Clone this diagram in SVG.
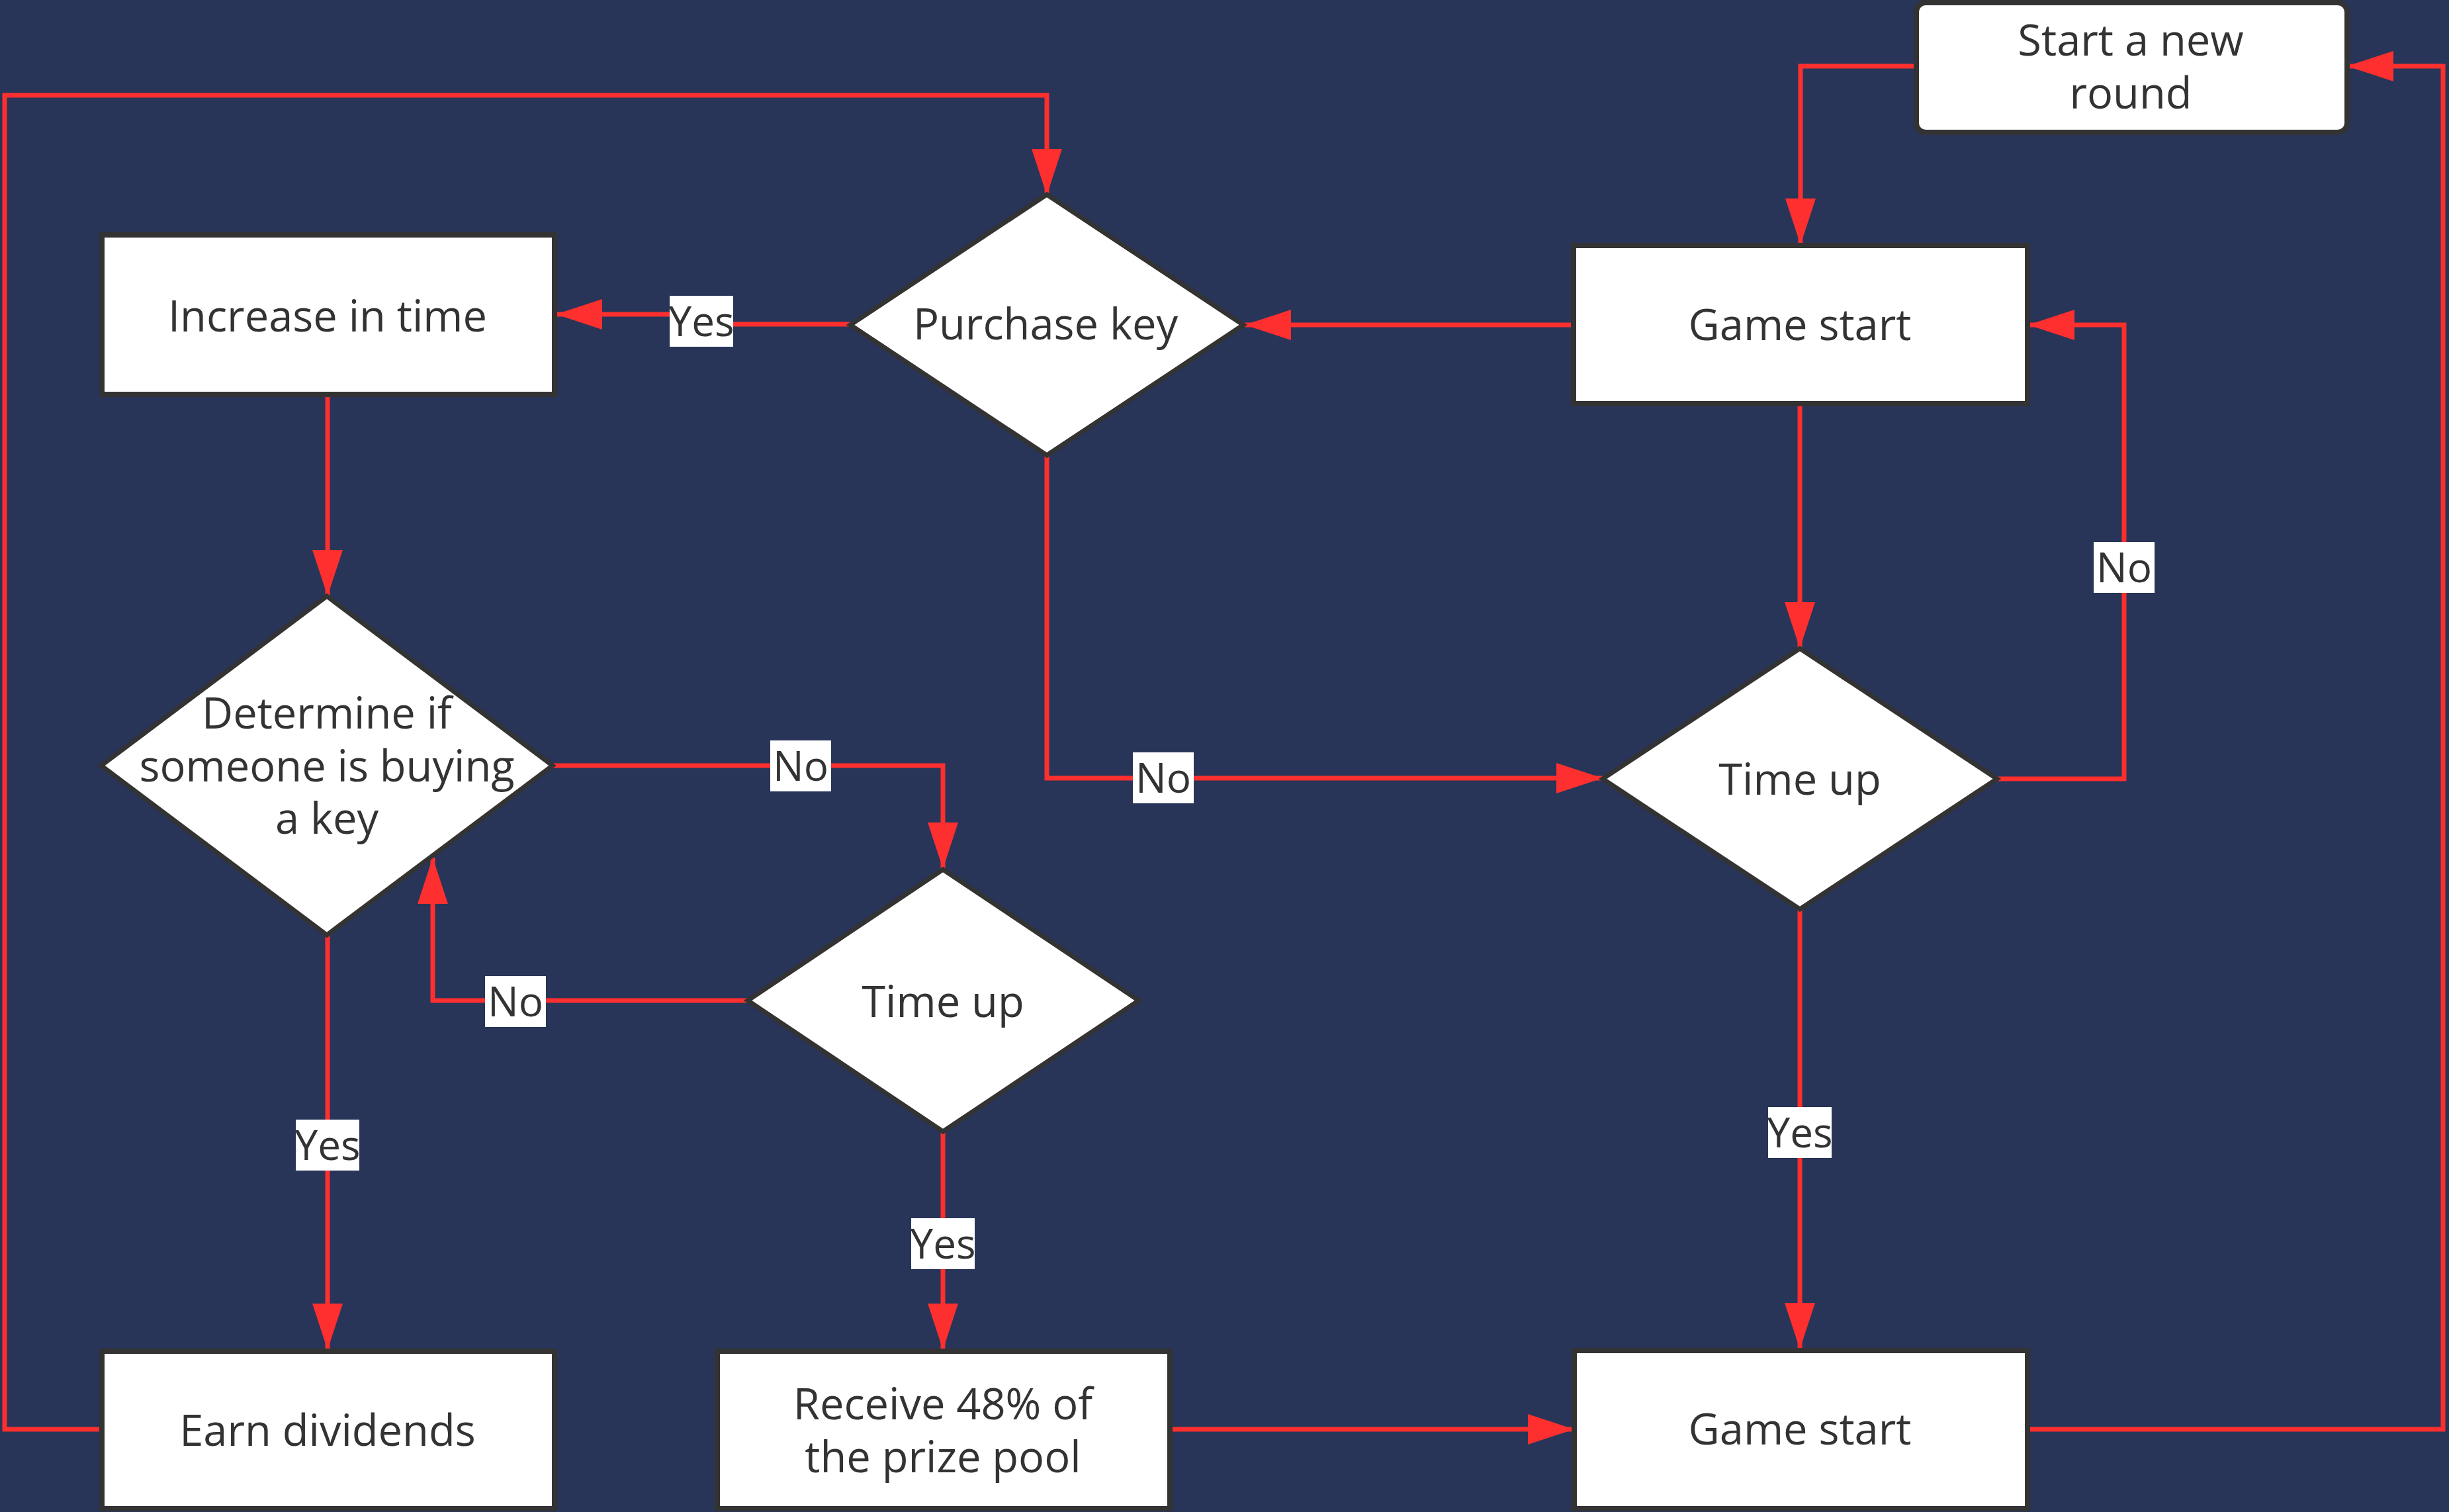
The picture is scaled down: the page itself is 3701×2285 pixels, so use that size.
<svg xmlns="http://www.w3.org/2000/svg" width="3701" height="2285" viewBox="0 0 3701 2285">
  <defs>
    <marker id="arrow" markerUnits="userSpaceOnUse" markerWidth="72" markerHeight="46" refX="70" refY="23" orient="auto">
      <path d="M0,0 L70,23 L0,46 Z" fill="#fe2f2f"/>
    </marker>
  </defs>
  <style>
    .box { fill: #ffffff; stroke: #333333; stroke-width: 8; }
    .dia { fill: #ffffff; stroke: #333333; stroke-width: 7; stroke-linejoin: miter; }
    .txt { font-family: "Open Sans", "Noto Sans", "DejaVu Sans", sans-serif; font-size: 65px; fill: #333333; text-anchor: middle; }
    .edge { fill: none; stroke: #fe2f2f; stroke-width: 7; }
    .arr { marker-end: url(#arrow); }
    .lbl-bg { fill: #ffffff; }
    .lbl { font-family: "Open Sans", "Noto Sans", "DejaVu Sans", sans-serif; font-size: 62px; fill: #333333; text-anchor: middle; }
  </style>

  <rect x="0" y="0" width="3701" height="2285" fill="#283558"/>

  <!-- connectors -->
  <g id="connectors">
    <path class="edge arr" d="M2896,100 H2721 V370"/>
    <path class="edge arr" d="M2376,491 H1881"/>
    <path class="edge arr" d="M1284,490 H1060 V475 H840"/>
    <path class="edge arr" d="M495,598 V901"/>
    <path class="edge arr" d="M834,1157 H1425 V1313"/>
    <path class="edge arr" d="M1130,1512 H654 V1296"/>
    <path class="edge arr" d="M495,1414 V2040"/>
    <path class="edge arr" d="M1425,1710 V2040"/>
    <path class="edge arr" d="M1582,688 V1176 H2422"/>
    <path class="edge arr" d="M2720,611 V980"/>
    <path class="edge arr" d="M3019,1177 H3210 V491 H3065"/>
    <path class="edge arr" d="M2720,1375 V2039"/>
    <path class="edge arr" d="M1768,2160 H2379"/>
    <path class="edge arr" d="M3064,2160 H3692 V100 H3547"/>
    <path class="edge arr" d="M153,2160 H7 V144 H1582 V295"/>

    <!-- edge labels -->
    <g id="label-yes-1"><rect class="lbl-bg" x="1012" y="447" width="96" height="77"/><text class="lbl" x="1060" y="508">Yes</text></g>
    <g id="label-no-1"><rect class="lbl-bg" x="1164" y="1119" width="92" height="77"/><text class="lbl" x="1210" y="1180">No</text></g>
    <g id="label-no-2"><rect class="lbl-bg" x="733" y="1475" width="92" height="77"/><text class="lbl" x="779" y="1536">No</text></g>
    <g id="label-yes-2"><rect class="lbl-bg" x="447" y="1692" width="96" height="77"/><text class="lbl" x="495" y="1753">Yes</text></g>
    <g id="label-yes-3"><rect class="lbl-bg" x="1377" y="1841" width="96" height="77"/><text class="lbl" x="1425" y="1902">Yes</text></g>
    <g id="label-no-3"><rect class="lbl-bg" x="1712" y="1137" width="92" height="77"/><text class="lbl" x="1758" y="1198">No</text></g>
    <g id="label-no-4"><rect class="lbl-bg" x="3164" y="819" width="92" height="77"/><text class="lbl" x="3210" y="880">No</text></g>
    <g id="label-yes-4"><rect class="lbl-bg" x="2672" y="1673" width="96" height="77"/><text class="lbl" x="2720" y="1734">Yes</text></g>
  </g>

  <!-- nodes -->
  <g id="node-new-round">
    <rect class="box" x="2896" y="4" width="651" height="196" rx="14" ry="14"/>
    <text class="txt" x="3220" y="84">Start a new</text>
    <text class="txt" x="3220" y="164">round</text>
  </g>

  <g id="node-game-start-top">
    <rect class="box" x="2378" y="371" width="686" height="239"/>
    <text class="txt" x="2720" y="514">Game start</text>
  </g>

  <g id="node-purchase-key">
    <polygon class="dia" points="1582,294 1879,491 1582,688 1285,491"/>
    <text class="txt" x="1580" y="513">Purchase key</text>
  </g>

  <g id="node-increase-time">
    <rect class="box" x="154" y="355" width="684" height="241"/>
    <text class="txt" x="495" y="501">Increase in time</text>
  </g>

  <g id="node-determine">
    <polygon class="dia" points="494,901 835,1157 494,1413 153,1157"/>
    <text class="txt" x="494" y="1101">Determine if</text>
    <text class="txt" x="494" y="1181">someone is buying</text>
    <text class="txt" x="494" y="1260">a key</text>
  </g>

  <g id="node-time-up-mid">
    <polygon class="dia" points="1425,1314 1721,1512 1425,1710 1130,1512"/>
    <text class="txt" x="1425" y="1537">Time up</text>
  </g>

  <g id="node-time-up-right">
    <polygon class="dia" points="2720,980 3018,1177 2720,1374 2422,1177"/>
    <text class="txt" x="2720" y="1201">Time up</text>
  </g>

  <g id="node-earn-dividends">
    <rect class="box" x="154" y="2042" width="684" height="238"/>
    <text class="txt" x="495" y="2185">Earn dividends</text>
  </g>

  <g id="node-receive-pool">
    <rect class="box" x="1084" y="2042" width="684" height="238"/>
    <text class="txt" x="1425" y="2145">Receive 48% of</text>
    <text class="txt" x="1425" y="2225">the prize pool</text>
  </g>

  <g id="node-game-start-bottom">
    <rect class="box" x="2379" y="2041" width="685" height="239"/>
    <text class="txt" x="2720" y="2183">Game start</text>
  </g>
</svg>
